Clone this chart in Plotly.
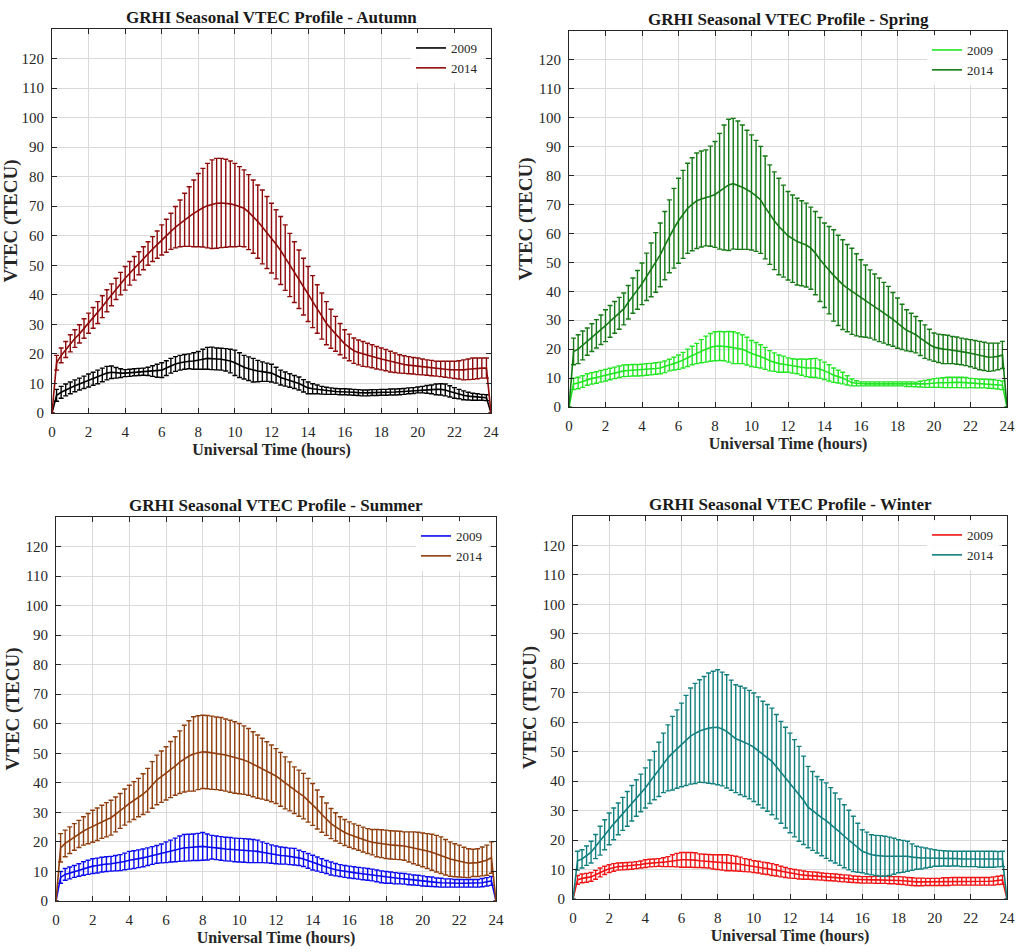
import plotly.graph_objects as go

# ---------------- DATA (VTEC, TECU) at 15-min steps, 0..24 h ----------------
hours = [i * 0.25 for i in range(97)]
x_ticks = [0, 2, 4, 6, 8, 10, 12, 14, 16, 18, 20, 22, 24]
y_ticks = [0, 10, 20, 30, 40, 50, 60, 70, 80, 90, 100, 110, 120]

autumn_2009 = [0,
    6, 7, 7.8,
    8.5, 9.2, 9.8, 10.4,
    11, 11.6, 12.2, 12.9,
    13.5, 13.8, 13.6, 13.5,
    13.5, 13.6, 13.8, 13.9,
    14, 14.1, 14.2, 14.3,
    14.5, 15.2, 16, 16.6,
    17, 17.3, 17.5, 17.6,
    17.8, 18.2, 18.5, 18.5,
    18.3, 18.2, 18, 17.6,
    17, 16.2, 15.5, 15,
    14.5, 14.2, 14, 13.8,
    13.5, 12.8, 12, 11.5,
    11, 10.5, 10, 9.2,
    8.5, 8.2, 8, 7.7,
    7.5, 7.4, 7.3, 7.2,
    7.2, 7.1, 7, 6.9,
    6.8, 6.8, 6.9, 6.9,
    7, 7, 7.1, 7.1,
    7.2, 7.3, 7.5, 7.6,
    7.8, 7.9, 8, 8,
    8, 8, 7.8, 7.3,
    6.8, 6.4, 6, 5.7,
    5.5, 5.4, 5.3, 5.2,
    0]
autumn_2009_sd = [0,
    2, 2, 2,
    2, 2, 2, 2.1,
    2.2, 2.2, 2.3, 2.3,
    2.3, 2.1, 1.8, 1.5,
    1.2, 1.2, 1.2, 1.2,
    1.2, 1.4, 1.8, 2.2,
    2.5, 2.5, 2.5, 2.5,
    2.5, 2.5, 2.5, 2.8,
    3, 3.4, 3.7, 3.8,
    3.7, 3.7, 3.8, 4,
    4.3, 4.2, 4, 4,
    4, 3.6, 3.3, 3.1,
    3, 2.7, 2.5, 2.4,
    2.3, 2.2, 2.2, 2.1,
    2, 1.7, 1.5, 1.3,
    1.2, 1.1, 1, 1,
    1, 1, 1, 1,
    1, 1, 1, 1,
    1, 1, 1, 1,
    1, 1, 1, 1,
    1, 1.1, 1.3, 1.5,
    1.8, 1.9, 2, 1.9,
    1.8, 1.6, 1.5, 1.3,
    1.2, 1.1, 1, 1,
    0]
autumn_2014 = [0,
    17, 19.5, 21.5,
    23.6, 25.2, 26.8, 28.6,
    30.4, 32.2, 34, 36,
    38, 40, 42, 43.8,
    45.6, 47.3, 49, 50.7,
    52.4, 54, 55.5, 57,
    58.6, 60, 61.5, 62.9,
    64.2, 65.4, 66.5, 67.6,
    68.7, 69.5, 70.2, 70.7,
    71, 71.1, 71, 70.8,
    70.4, 69.9, 69.3, 68,
    66.5, 64.8, 63, 61.1,
    59.2, 57.1, 55, 52.6,
    50.1, 47.7, 45.3, 42.8,
    40.3, 37.7, 35.2, 32.8,
    30.4, 28.5, 26.8, 25,
    23.4, 22.2, 21.1, 20.5,
    20, 19.6, 19.2, 18.7,
    18.3, 17.9, 17.4, 17,
    16.6, 16.4, 16.2, 16,
    15.8, 15.6, 15.4, 15.2,
    15, 14.9, 14.8, 14.7,
    14.6, 14.6, 14.6, 14.8,
    15, 15.1, 15.2, 15.2,
    0]
autumn_2014_sd = [0,
    2.5, 2.5, 2.7,
    2.9, 3, 3.1, 3.3,
    3.4, 3.5, 3.7, 3.7,
    3.7, 3.7, 3.6, 3.8,
    4, 4, 4, 3.9,
    3.9, 4, 4.2, 4.6,
    5.1, 5.6, 6.1, 7,
    7.9, 9, 10.1, 11.3,
    12.4, 13.3, 14.3, 15,
    15.2, 15.1, 14.9, 14.5,
    14.1, 13.5, 13, 12.7,
    12.4, 12.4, 12.5, 12.2,
    11.8, 11.7, 11.5, 11.1,
    10.7, 10.3, 9.9, 9.6,
    9.3, 8.8, 8.2, 7.8,
    7.3, 6.6, 5.9, 5.3,
    4.8, 4.5, 4.3, 4.2,
    4.2, 4, 3.9, 3.8,
    3.7, 3.6, 3.5, 3.3,
    3.1, 3, 2.9, 2.8,
    2.8, 2.7, 2.6, 2.6,
    2.5, 2.6, 2.7, 2.8,
    2.9, 3.1, 3.4, 3.5,
    3.6, 3.5, 3.4, 3.4,
    0]

spring_2009 = [0,
    8, 8.3, 8.8,
    9.5, 9.9, 10.2, 10.6,
    11, 11.4, 11.8, 12.2,
    12.5, 12.6, 12.7, 12.7,
    12.8, 13, 13.1, 13.3,
    13.5, 13.9, 14.5, 15,
    15.5, 16.2, 17, 17.8,
    18.5, 19.3, 20, 20.6,
    21, 21.1, 21, 20.8,
    20.5, 20.3, 20, 19.3,
    18.5, 18, 17.5, 16.8,
    16, 15.5, 15, 14.8,
    14.5, 14.2, 14, 13.8,
    13.5, 13.5, 13.5, 13.1,
    12.5, 11.8, 11, 10.5,
    10, 9.2, 8.5, 8.2,
    8, 8, 8, 8,
    8, 8, 8, 8,
    8, 8, 7.9, 7.9,
    7.8, 7.9, 8, 8.1,
    8.3, 8.4, 8.4, 8.5,
    8.5, 8.5, 8.5, 8.4,
    8.3, 8.2, 8.1, 8.1,
    8, 7.9, 7.7, 7.5,
    0]
spring_2009_sd = [0,
    2, 2, 2,
    2, 2, 2, 2,
    2, 2, 2, 2,
    2, 2, 2, 2,
    2, 2, 2, 2,
    2, 2, 2, 2.2,
    2.5, 2.7, 3, 3.2,
    3.5, 4, 4.5, 4.8,
    5, 5, 5, 5.3,
    5.5, 5.3, 5, 4.8,
    4.5, 4.3, 4, 3.8,
    3.5, 3.2, 3, 2.8,
    2.5, 2.5, 2.5, 2.8,
    3, 3.2, 3.3, 3.2,
    3, 2.8, 2.5, 2.2,
    2, 1.6, 1.2, 0.9,
    0.7, 0.7, 0.7, 0.7,
    0.7, 0.7, 0.7, 0.7,
    0.7, 0.7, 0.8, 0.8,
    0.8, 1, 1.2, 1.3,
    1.5, 1.6, 1.7, 1.8,
    1.8, 1.8, 1.8, 1.8,
    1.6, 1.6, 1.5, 1.5,
    1.5, 1.5, 1.5, 1.5,
    0]
spring_2014 = [0,
    19.2, 20, 21.3,
    22.6, 24, 25.3, 26.7,
    28.1, 29.6, 31, 32.4,
    33.9, 36.2, 38.5, 40.5,
    42.6, 45, 47.4, 50,
    52.6, 55.8, 59, 61.8,
    64.4, 66.6, 68.7, 70.1,
    71.3, 71.9, 72.3, 72.9,
    73.5, 74.6, 75.9, 76.8,
    77.2, 76.7, 76, 75.1,
    74.2, 73, 71.6, 69,
    66.5, 64.4, 62.4, 60.8,
    59.2, 58.2, 57.2, 56.6,
    56, 54.9, 53.2, 51,
    49, 47.3, 45.5, 43.8,
    42.3, 41.1, 40, 38.8,
    37.6, 36.6, 35.6, 34.6,
    33.6, 32.6, 31.6, 30.3,
    29, 27.7, 26.5, 25.8,
    25, 23.8, 22.6, 21.6,
    20.7, 20.3, 20, 19.9,
    19.7, 19.5, 19.2, 18.9,
    18.6, 18.2, 17.8, 17.5,
    17.2, 17.3, 17.5, 18,
    0]
spring_2014_sd = [0,
    4.6, 5, 5,
    4.7, 4.8, 4.9, 5.1,
    5.5, 5.5, 5.5, 5.5,
    5.5, 5.8, 6.1, 6.7,
    7.2, 8.2, 9.3, 10.3,
    11, 11.8, 12.6, 13.8,
    14.7, 15.2, 15.6, 16.1,
    16.5, 16.6, 16.6, 17.3,
    18.3, 20, 21.6, 22.7,
    22.6, 22.2, 21.5, 20.6,
    19.9, 19.2, 18.5, 17.8,
    17.2, 16.9, 16.7, 15.9,
    15.3, 15.1, 15, 14.7,
    14.5, 14.2, 14.4, 14.5,
    14.6, 15.1, 15.8, 15.6,
    15.5, 15.1, 14.9, 14.2,
    13.3, 12.5, 11.8, 11.4,
    11, 10.5, 10.1, 9.3,
    8.7, 7.8, 7.1, 6.6,
    6.3, 6, 5.8, 5.3,
    4.9, 4.9, 5, 4.9,
    4.7, 4.7, 4.6, 4.6,
    4.7, 4.8, 4.9, 4.9,
    4.9, 4.8, 4.6, 4.7,
    0]

summer_2009 = [0,
    8, 9, 9.5,
    10, 10.5, 11, 11.4,
    11.8, 12, 12.3, 12.5,
    12.6, 12.8, 13, 13.4,
    13.8, 14, 14.3, 14.6,
    15, 15.4, 15.8, 16.1,
    16.5, 16.9, 17.3, 17.7,
    18, 18.1, 18.2, 18.3,
    18.5, 18.3, 18.2, 18,
    17.8, 17.6, 17.5, 17.3,
    17.2, 17.1, 17, 16.9,
    16.8, 16.5, 16.2, 15.9,
    15.6, 15.4, 15.3, 15.1,
    15, 14.6, 14.2, 13.6,
    13, 12.5, 12, 11.5,
    11, 10.6, 10.3, 10,
    9.8, 9.6, 9.4, 9.2,
    9, 8.8, 8.5, 8.2,
    8, 7.9, 7.7, 7.6,
    7.5, 7.3, 7.1, 7,
    6.8, 6.6, 6.5, 6.3,
    6.2, 6.1, 6.1, 6,
    6, 6, 6, 6,
    6, 6.2, 6.5, 6.8,
    0]
summer_2009_sd = [0,
    2, 2, 2,
    2, 2.1, 2.3, 2.4,
    2.5, 2.5, 2.5, 2.5,
    2.5, 2.6, 2.7, 2.8,
    3, 3, 3, 3,
    3, 3, 3, 3.2,
    3.5, 3.7, 4, 4.3,
    4.5, 4.5, 4.5, 4.6,
    4.7, 4.4, 4, 4,
    4, 4, 4, 4,
    4, 4, 4, 3.9,
    3.8, 3.5, 3.3, 3.1,
    3, 2.9, 2.8, 2.8,
    2.8, 2.6, 2.5, 2.5,
    2.5, 2.4, 2.3, 2.2,
    2.2, 2.1, 2, 2,
    2, 2, 2, 2,
    2, 2, 2, 2,
    2, 1.9, 1.9, 1.8,
    1.8, 1.8, 1.7, 1.7,
    1.7, 1.6, 1.6, 1.5,
    1.5, 1.4, 1.4, 1.3,
    1.3, 1.3, 1.3, 1.3,
    1.3, 1.4, 1.4, 1.5,
    0]
summer_2014 = [0,
    18, 19.5, 20.6,
    21.7, 22.7, 23.7, 24.5,
    25.3, 26, 26.8, 27.5,
    28.2, 29.3, 30.5, 31.8,
    33, 34, 35, 36.2,
    37.5, 39.3, 41, 42.1,
    43.2, 44.5, 45.7, 47,
    48.2, 49.1, 49.8, 50.2,
    50.5, 50.4, 50.2, 50,
    49.8, 49.4, 49, 48.6,
    48.2, 47.7, 47.1, 46.3,
    45.5, 44.8, 44, 43.2,
    42.3, 41.2, 40, 38.8,
    37.5, 36.5, 35.5, 34.1,
    32.7, 31, 29.3, 27.7,
    26.2, 25.1, 24, 23.2,
    22.5, 21.9, 21.4, 20.8,
    20.3, 19.9, 19.6, 19.4,
    19.2, 19, 18.9, 18.8,
    18.6, 18.3, 18, 17.7,
    17.3, 16.9, 16.5, 16,
    15.5, 14.8, 14.2, 13.8,
    13.5, 13.1, 12.8, 12.9,
    13, 13.4, 13.8, 14.7,
    0]
summer_2014_sd = [0,
    4.8, 4.5, 4.5,
    4.5, 4.6, 4.8, 5.1,
    5.4, 5.5, 5.6, 5.8,
    5.9, 5.9, 5.9, 6.1,
    6.2, 6.4, 6.5, 6.9,
    7.4, 7.9, 8.4, 8.7,
    9, 9.5, 9.9, 10.6,
    11.3, 11.9, 12.6, 12.5,
    12.4, 12.4, 12.4, 12.3,
    12.3, 12.2, 12.2, 12.1,
    11.9, 11.6, 11.3, 11,
    10.7, 10.3, 9.9, 9.6,
    9.3, 9.1, 8.8, 8.3,
    7.9, 7.8, 7.7, 7.4,
    7.1, 6.6, 6, 5.5,
    5.1, 4.8, 4.5, 4.4,
    4.3, 4.2, 4.2, 4.2,
    4.2, 4.3, 4.6, 4.7,
    4.8, 4.8, 4.8, 4.8,
    4.8, 5.1, 5.4, 5.6,
    5.7, 5.9, 6.1, 6.2,
    6.2, 6, 5.8, 5.6,
    5.4, 5.1, 4.9, 4.6,
    4.7, 4.9, 5.1, 5.3,
    0]

winter_2009 = [0,
    6.5, 7, 7.2,
    7.5, 8.2, 9, 9.7,
    10.3, 10.7, 11, 11.1,
    11.2, 11.3, 11.5, 11.7,
    12, 12.2, 12.3, 12.4,
    12.5, 12.7, 13, 13.2,
    13.3, 13.3, 13.3, 13.2,
    13, 12.9, 12.8, 12.6,
    12.5, 12.4, 12.3, 12.2,
    12, 11.8, 11.5, 11.3,
    11, 10.8, 10.5, 10.3,
    10, 9.7, 9.3, 9,
    8.7, 8.5, 8.3, 8.1,
    8, 7.9, 7.8, 7.6,
    7.5, 7.4, 7.3, 7.1,
    7, 6.9, 6.7, 6.6,
    6.5, 6.5, 6.5, 6.5,
    6.5, 6.5, 6.4, 6.4,
    6.3, 6.2, 6, 5.9,
    5.8, 5.8, 5.8, 5.8,
    5.8, 5.8, 5.9, 5.9,
    6, 6, 6, 6,
    6, 6, 6, 6,
    6, 6.1, 6.3, 6.5,
    0]
winter_2009_sd = [0,
    1.5, 1.5, 1.5,
    1.5, 1.5, 1.5, 1.4,
    1.3, 1.3, 1.2, 1.2,
    1.2, 1.2, 1.2, 1.2,
    1.3, 1.3, 1.3, 1.3,
    1.5, 1.7, 2, 2.3,
    2.5, 2.5, 2.5, 2.5,
    2.3, 2.3, 2.3, 2.4,
    2.5, 2.6, 2.7, 2.6,
    2.5, 2.4, 2.2, 2.1,
    2, 2, 2, 2,
    2, 1.9, 1.8, 1.7,
    1.6, 1.5, 1.5, 1.4,
    1.3, 1.3, 1.3, 1.2,
    1.2, 1.2, 1.2, 1.2,
    1.2, 1.2, 1.1, 1.1,
    1.1, 1.1, 1.1, 1.2,
    1.2, 1.2, 1.2, 1.2,
    1.3, 1.3, 1.3, 1.3,
    1.3, 1.3, 1.2, 1.2,
    1.2, 1.2, 1.3, 1.3,
    1.3, 1.3, 1.3, 1.3,
    1.3, 1.3, 1.3, 1.3,
    1.3, 1.4, 1.4, 1.5,
    0]
winter_2014 = [0,
    13, 13.6, 14.7,
    15.9, 17.8, 19.8, 21.8,
    23.8, 25.5, 27.2, 28.9,
    30.6, 32.5, 34.3, 36,
    37.7, 39.8, 41.9, 44,
    46.2, 47.9, 49.5, 50.9,
    52.3, 53.8, 55.3, 56.2,
    57, 57.5, 58, 58.2,
    58.3, 57.7, 56.9, 55.6,
    54.4, 53.8, 53.2, 52.4,
    51.5, 50.3, 49, 47.9,
    46.7, 44.9, 43, 41.2,
    39.4, 37.6, 35.7, 33.5,
    31.2, 29.9, 28.6, 27.6,
    26.6, 25.4, 24.1, 22.7,
    21.3, 20, 18.7, 17.4,
    16.2, 15.6, 15, 14.8,
    14.6, 14.5, 14.5, 14.5,
    14.5, 14.5, 14.5, 14.2,
    14, 13.9, 13.9, 13.9,
    13.9, 13.8, 13.8, 13.7,
    13.7, 13.7, 13.6, 13.6,
    13.6, 13.6, 13.5, 13.5,
    13.5, 13.5, 13.5, 13.6,
    0]
winter_2014_sd = [0,
    3.2, 3.1, 3.3,
    3.7, 4.1, 4.9, 5.1,
    5.4, 5.4, 5.4, 5.6,
    5.9, 6, 6.2, 6.4,
    6.8, 7.4, 8.2, 9.2,
    10.1, 11.2, 12.5, 13.3,
    14.2, 15.3, 16.3, 17,
    17.4, 18, 18.7, 19.1,
    19.5, 19.3, 19.2, 18.7,
    18.3, 18.4, 18.4, 18.4,
    18.4, 18.3, 18.1, 18.1,
    18.1, 17.7, 17.3, 17.1,
    16.9, 16.5, 16.1, 15,
    13.8, 13.4, 13, 12.9,
    12.8, 12.4, 11.9, 11.3,
    10.7, 10.1, 9.4, 8.3,
    7.3, 7.1, 6.8, 6.8,
    6.9, 6.8, 6.5, 6.1,
    5.6, 5.4, 5.1, 4.5,
    3.9, 3.7, 3.4, 3.1,
    2.8, 2.7, 2.6, 2.6,
    2.5, 2.5, 2.6, 2.6,
    2.6, 2.6, 2.7, 2.7,
    2.7, 2.7, 2.6, 2.6,
    0]

seasons = ["Autumn", "Spring", "Summer", "Winter"]
years = ["2009", "2014"]
season_data = {
    "Autumn": [(autumn_2009, autumn_2009_sd), (autumn_2014, autumn_2014_sd)],
    "Spring": [(spring_2009, spring_2009_sd), (spring_2014, spring_2014_sd)],
    "Summer": [(summer_2009, summer_2009_sd), (summer_2014, summer_2014_sd)],
    "Winter": [(winter_2009, winter_2009_sd), (winter_2014, winter_2014_sd)],
}
for s in seasons:
    for m, e in season_data[s]:
        assert len(m) == 97 and len(e) == 97, (s, len(m), len(e))

# ---------------- STYLE ----------------
colors = {
    "Autumn": ["#000000", "#8f0a0a"],
    "Spring": ["#22e622", "#157a15"],
    "Summer": ["#0a0af0", "#8f3e0c"],
    "Winter": ["#f01414", "#11807f"],
}
W, H = 1018, 952
# plot-area pixel boxes (left, top, right, bottom)
boxes = {
    "Autumn": (52, 29, 491, 413),
    "Spring": (569, 31, 1007, 407),
    "Summer": (56, 517, 496, 901),
    "Winter": (573, 516, 1007, 899),
}
FONT = "Liberation Serif, Times New Roman, serif"

fig = go.Figure()
layout = dict(
    width=W, height=H, margin=dict(l=0, r=0, t=0, b=0, autoexpand=False),
    paper_bgcolor="white", plot_bgcolor="white",
    font=dict(family=FONT, color="#222222"),
    annotations=[], showlegend=True,
)

for k, s in enumerate(seasons):
    n = "" if k == 0 else str(k + 1)
    L, T, R, B = boxes[s]
    xd = [L / W, R / W]
    yd = [1 - B / H, 1 - T / H]
    legname = "legend" + n
    for j, y in enumerate(years):
        m, e = season_data[s][j]
        fig.add_trace(go.Scatter(
            x=hours, y=m, mode="lines", name=y,
            line=dict(color=colors[s][j], width=1.6),
            error_y=dict(type="data", array=e, visible=True,
                         color=colors[s][j], thickness=1.4, width=2.5),
            xaxis="x" + n, yaxis="y" + n, legend=legname,
        ))
    axcommon = dict(showline=True, linecolor="#262626", linewidth=1, mirror="ticks",
                    ticks="inside", ticklen=5, tickcolor="#262626",
                    showgrid=True, gridcolor="#dadada", gridwidth=1, zeroline=False,
                    tickfont=dict(family=FONT, size=15, color="#262626"))
    layout["xaxis" + n] = dict(axcommon, domain=xd, range=[0, 24], tickvals=x_ticks,
                               anchor="y" + n, ticklabelstandoff=5,
                               title=dict(text="<b>Universal Time (hours)</b>",
                                          font=dict(family=FONT, size=16, color="#262626"),
                                          standoff=4))
    layout["yaxis" + n] = dict(axcommon, domain=yd, range=[0, 130], tickvals=y_ticks,
                               anchor="x" + n, ticklabelstandoff=4,
                               title=dict(text="<b>VTEC (TECU)</b>",
                                          font=dict(family=FONT, size=19, color="#262626"),
                                          standoff=0))
    layout[legname] = dict(x=(R - 8) / W, y=1 - (T + 4) / H, xanchor="right", yanchor="top",
                           bgcolor="rgba(255,255,255,0.9)", borderwidth=0,
                           font=dict(family=FONT, size=13, color="#262626"),
                           itemwidth=30, tracegroupgap=0)
    layout["annotations"].append(dict(
        text="<b>GRHI Seasonal VTEC Profile - %s</b>" % s,
        x=(L + R) / 2 / W, y=1 - (T - 12) / H, xref="paper", yref="paper",
        xanchor="center", yanchor="middle", showarrow=False,
        font=dict(family=FONT, size=17, color="#1a1a1a")))

fig.update_layout(**layout)
fig.write_html("out.html", config={"displayModeBar": False},
               post_script="document.body.style.margin='0';")
